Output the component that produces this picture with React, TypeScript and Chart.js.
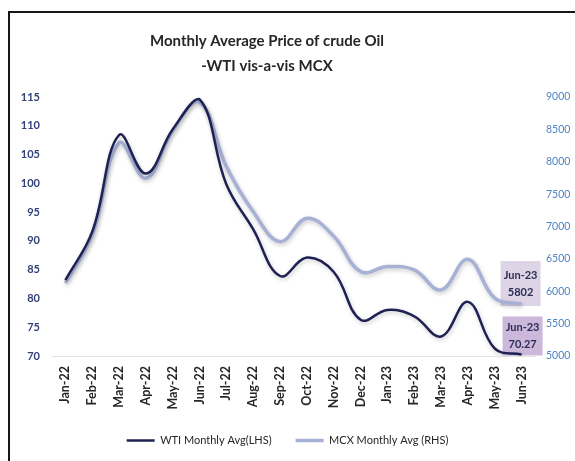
import { useEffect, useRef } from "react";
import { Chart, registerables } from "chart.js";

Chart.register(...registerables);

const TITLE_LINES = ["Monthly Average Price of crude Oil", "-WTI vis-a-vis MCX"];
const MONTHS = [
  "Jan-22", "Feb-22", "Mar-22", "Apr-22", "May-22", "Jun-22", "Jul-22", "Aug-22", "Sep-22",
  "Oct-22", "Nov-22", "Dec-22", "Jan-23", "Feb-23", "Mar-23", "Apr-23", "May-23", "Jun-23",
];
const WTI_LABEL = "WTI Monthly Avg(LHS)";
const MCX_LABEL = "MCX Monthly Avg (RHS)";
const WTI = [83.2, 91.6, 108.4, 101.7, 109.4, 114.6, 99.8, 92.0, 83.9, 87.1, 84.6, 76.3, 78.0, 76.9, 73.4, 79.4, 71.3, 70.27];
const MCX = [6125, 6870, 8290, 7745, 8480, 8920, 7925, 7230, 6767, 7128, 6850, 6304, 6381, 6330, 6022, 6495, 5894, 5802];
const LEFT_MIN = 70, LEFT_MAX = 115, LEFT_STEP = 5;
const RIGHT_MIN = 5000, RIGHT_MAX = 9000, RIGHT_STEP = 500;

const FONT = "Lato, 'DejaVu Sans', sans-serif";

const titlePlugin = {
  id: "titleLines",
  afterDraw(chart: any) {
    const ctx = chart.ctx;
    ctx.save();
    ctx.fillStyle = "#262626";
    ctx.font = `bold 15px ${FONT}`;
    ctx.textAlign = "center";
    ctx.textBaseline = "middle";
    const cx = 267;
    TITLE_LINES.forEach((t, i) => ctx.fillText(t, cx, 41 + i * 25));
    ctx.restore();
  },
};

const endLabelPlugin = {
  id: "endLabels",
  beforeDatasetsDraw(chart: any) {
    const ctx = chart.ctx;
    const last = MONTHS.length - 1;
    const boxes = [
      { ds: 1, fill: "#ddd4e5", text: [MONTHS[last], String(MCX[last])], x0: -21, top: -43, h: 45 },
      { ds: 0, fill: "#ccb8db", text: [MONTHS[last], WTI[last].toFixed(2)], x0: -19, top: -38, h: 39 },
    ];
    ctx.save();
    boxes.forEach((b) => {
      const pt = chart.getDatasetMeta(b.ds).data[last];
      const px = pt.x, py = pt.y;
      ctx.fillStyle = b.fill;
      ctx.fillRect(px + b.x0, py + b.top, 40, b.h);
      ctx.fillStyle = "#2a2d55";
      ctx.font = `bold 11px ${FONT}`;
      ctx.textAlign = "center";
      ctx.textBaseline = "middle";
      const cx = px + b.x0 + 20;
      const mid = py + b.top + b.h / 2;
      ctx.fillText(b.text[0], cx, mid - 8.5);
      ctx.fillText(b.text[1], cx, mid + 8.5);
    });
    ctx.restore();
  },
};

const shadowPlugin = {
  id: "lineShadow",
  beforeDatasetDraw(chart: any) {
    const ctx = chart.ctx;
    ctx.save();
    ctx.shadowColor = "rgba(0,0,0,0.22)";
    ctx.shadowBlur = 4;
    ctx.shadowOffsetX = 1;
    ctx.shadowOffsetY = 2;
  },
  afterDatasetDraw(chart: any) {
    chart.ctx.restore();
  },
};

export default function App() {
  const ref = useRef<HTMLCanvasElement | null>(null);
  useEffect(() => {
    if (!ref.current) return;
    const chart = new Chart(ref.current, {
      type: "line",
      data: {
        labels: MONTHS,
        datasets: [
          {
            label: WTI_LABEL,
            data: WTI,
            yAxisID: "y",
            borderColor: "#1e2152",
            backgroundColor: "#1e2152",
            borderWidth: 2.5,
            pointRadius: 0,
            tension: 0.4,
          },
          {
            label: MCX_LABEL,
            data: MCX,
            yAxisID: "y1",
            borderColor: "#a6b1d5",
            backgroundColor: "#a6b1d5",
            borderWidth: 3.5,
            pointRadius: 0,
            tension: 0.4,
          },
        ],
      },
      options: {
        animation: false,
        responsive: false,
        maintainAspectRatio: false,
        layout: { padding: { top: 97, left: 0, right: 0, bottom: 5 } },
        plugins: {
          title: { display: false },
          tooltip: { enabled: false },
          legend: {
            position: "bottom",
            labels: {
              usePointStyle: true,
              pointStyle: "line",
              pointStyleWidth: 28,
              boxHeight: 10,
              color: "#262626",
              font: { family: FONT, size: 11 },
              padding: 24,
            },
          },
        },
        scales: {
          x: {
            offset: true,
            grid: { display: false, drawTicks: false },
            border: { display: true, color: "#e2e2e2", width: 1 },
            ticks: {
              minRotation: 90,
              maxRotation: 90,
              padding: 10,
              color: "#262626",
              font: { family: FONT, size: 12.5, weight: "bold" },
            },
            afterFit(scale: any) {
              scale.height = 55;
            },
          },
          y: {
            position: "left",
            min: LEFT_MIN,
            max: LEFT_MAX,
            grid: { display: false, drawTicks: false },
            border: { display: false },
            ticks: {
              stepSize: LEFT_STEP,
              padding: 12,
              color: "#34427a",
              font: { family: FONT, size: 11, weight: "bold" },
            },
            afterFit(scale: any) {
              scale.width = 52;
            },
          },
          y1: {
            position: "right",
            min: RIGHT_MIN,
            max: RIGHT_MAX,
            grid: { display: false, drawTicks: false },
            border: { display: false },
            ticks: {
              stepSize: RIGHT_STEP,
              padding: 11,
              color: "#4f84c4",
              font: { family: FONT, size: 10.5 },
              callback: (v: any) => String(v),
            },
            afterFit(scale: any) {
              scale.width = 40;
            },
          },
        },
      },
      plugins: [titlePlugin, endLabelPlugin, shadowPlugin],
    });
    return () => chart.destroy();
  }, []);

  return (
    <div style={{ position: "fixed", left: 0, top: 0, width: 575, height: 461, background: "#fff", overflow: "hidden" }}>
      <div
        style={{
          position: "absolute",
          left: 8,
          top: 11,
          width: 600,
          height: 500,
          borderLeft: "2.5px solid #161616",
          borderTop: "2.5px solid #161616",
        }}
      />
      <canvas ref={ref} width={575} height={461} style={{ position: "absolute", left: 0, top: 0 }} />
    </div>
  );
}
